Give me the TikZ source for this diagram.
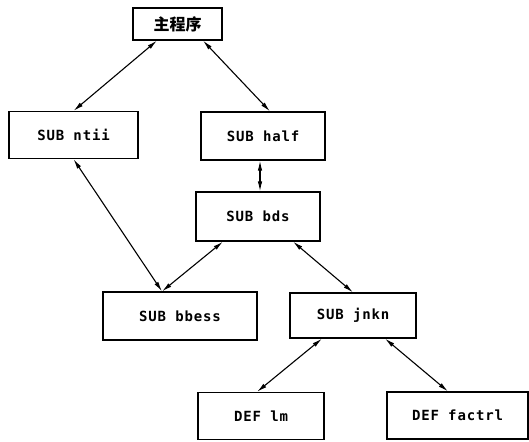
\documentclass[tikz,border=0pt]{standalone}
\usepackage{fontspec}
\newfontfamily\boxfont[LetterSpace=6]{DejaVu Sans Mono}
\newfontfamily\cjk{Noto Sans CJK SC}
\usepackage{tikz}
\usetikzlibrary{positioning,arrows.meta}

\begin{document}
\begin{tikzpicture}[x=1pt, y=-1pt,
  every node/.style={font=\boxfont\bfseries\fontsize{14}{16}\selectfont},
  b/.style={draw, line width=1.2pt, align=center, minimum height=47pt, inner sep=0pt},
  a/.style={{Latex[length=10pt,width=4.5pt]}-{Latex[length=10pt,width=4.5pt]}, line width=1.1pt}]
\useasboundingbox (0,0) rectangle (529,441);
\node[b, minimum width=89pt, minimum height=32pt, font=\cjk\bfseries\fontsize{16}{18}\selectfont] (main) at (177.5,24) {主程序};
\node[b, minimum width=129pt] (ntii) at (73.5,135) {SUB ntii};
\node[b, minimum width=124pt, minimum height=48pt] (half) at (263,136) {SUB half};
\node[b, minimum width=124pt, minimum height=49pt] (bds) at (258,216.5) {SUB bds};
\node[b, minimum width=154pt, minimum height=48pt] (bbess) at (180,316) {SUB bbess};
\node[b, minimum width=126pt, minimum height=45pt] (jnkn) at (353,315.5) {SUB jnkn};
\node[b, minimum width=126pt] (lm) at (261,416) {DEF lm};
\node[b, minimum width=141pt] (factrl) at (457.5,415.5) {DEF factrl};
\draw[a] ([xshift=-20.5pt]main.south) -- (ntii.north);
\draw[a] ([xshift=25.5pt]main.south) -- ([xshift=7pt]half.north);
\draw[a] ([xshift=-3pt]half.south) -- ([xshift=-3pt]half.south |- bds.north);
\draw[a] (ntii.south) -- ([xshift=-18pt]bbess.north);
\draw[a] ([xshift=-35pt]bds.south) -- ([xshift=-18pt]bbess.north);
\draw[a] ([xshift=35pt]bds.south) -- (jnkn.north);
\draw[a] ([xshift=-31pt]jnkn.south) -- ([xshift=-4pt]lm.north);
\draw[a] ([xshift=32pt]jnkn.south) -- ([xshift=-9.5pt]factrl.north);
\end{tikzpicture}
\end{document}
